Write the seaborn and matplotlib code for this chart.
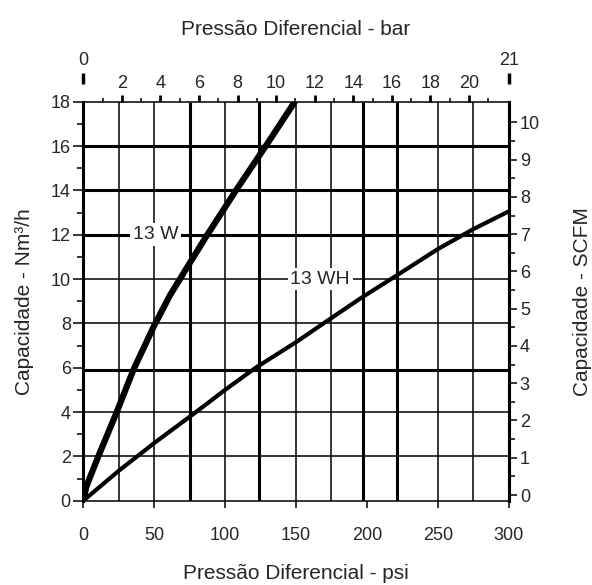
import matplotlib
matplotlib.use("Agg")
import matplotlib.pyplot as plt
import pandas as pd
import seaborn as sns

# curves: differential pressure (psi) vs capacity (Nm3/h)
psi_13w = [0, 2, 5, 10.6, 23.6, 35.3, 50, 61, 72, 86, 108.3, 129.5, 149.2]
cap_13w = [0, 0.6, 1.1, 2.0, 4.0, 5.9, 7.9, 9.25, 10.4, 11.85, 14.06, 16.08, 18.0]

psi_13wh = [0, 25, 50, 79.5, 100, 121.6, 150, 174, 196, 219.5, 250, 275, 300]
cap_13wh = [0, 1.35, 2.6, 4.0, 5.0, 6.0, 7.15, 8.2, 9.15, 10.1, 11.35, 12.25, 13.05]

# grid of the printed chart (some lines are drawn heavier)
grid_psi_thin = [25, 50, 100, 150, 175, 250, 275]
grid_psi_thick = [75, 124, 197, 221]
grid_cap_thin = [2, 4, 8, 10]
grid_cap_thick = [5.9, 12, 14, 16]

psi_ticks = [0, 50, 100, 150, 200, 250, 300]
cap_ticks = [0, 2, 4, 6, 8, 10, 12, 14, 16, 18]
cap_minor = [1, 3, 5, 7, 9, 11, 13, 15, 17]
bar_ticks = [2, 4, 6, 8, 10, 12, 14, 16, 18, 20]
bar_minor = [1, 3, 5, 7, 9, 11, 13, 15, 17, 19, 21]
bar_ends = ["0", "21"]
scfm_ticks = [0, 1, 2, 3, 4, 5, 6, 7, 8, 9, 10]
scfm_minor = [0.5, 1.5, 2.5, 3.5, 4.5, 5.5, 6.5, 7.5, 8.5, 9.5]

psi_per_bar = 13.6      # scale as printed on the top axis
nm3_per_scfm = 1.681    # scale as printed on the right axis
scfm_offset = 0.257

curves = pd.concat([
    pd.DataFrame({"psi": psi_13w, "cap": cap_13w, "model": "13 W"}),
    pd.DataFrame({"psi": psi_13wh, "cap": cap_13wh, "model": "13 WH"}),
])

sns.set_style("white")
plt.rcParams["font.family"] = ["Liberation Sans", "DejaVu Sans"]

TICK = 13
LABEL = 15

fig = plt.figure(figsize=(5.92, 5.85), dpi=100)
ax = fig.add_axes([0.1407, 0.1441, 0.7186, 0.6821])

ax.vlines(grid_psi_thin, 0, 18, color="black", lw=1.1, zorder=1)
ax.vlines(grid_psi_thick, 0, 18, color="black", lw=2.2, zorder=1)
ax.hlines(grid_cap_thin, 0, 300, color="black", lw=1.1, zorder=1)
ax.hlines(grid_cap_thick, 0, 300, color="black", lw=2.2, zorder=1)

sns.lineplot(data=curves[curves["model"] == "13 W"], x="psi", y="cap", color="black",
             lw=4.5, sort=False, ax=ax, zorder=3)
sns.lineplot(data=curves[curves["model"] == "13 WH"], x="psi", y="cap", color="black",
             lw=3.0, sort=False, ax=ax, zorder=3)

ax.text(51, 12, "13 W", fontsize=14, ha="center", va="center", zorder=4,
        bbox=dict(facecolor="white", edgecolor="none", pad=2))
ax.text(167, 10, "13 WH", fontsize=14, ha="center", va="center", zorder=4,
        bbox=dict(facecolor="white", edgecolor="none", pad=2))

ax.set_xlim(0, 300)
ax.set_ylim(0, 18)
ax.set_xticks(psi_ticks)
ax.set_yticks(cap_ticks)
ax.set_yticks(cap_minor, minor=True)
ax.tick_params(axis="x", length=5, width=1.1, labelsize=TICK, pad=14, color="black")
ax.tick_params(axis="y", which="major", length=7, width=1.1, labelsize=TICK, pad=2, color="black")
ax.tick_params(axis="y", which="minor", length=4.5, width=1.1, color="black")
ax.tick_params(left=True, bottom=True, which="both")
ax.set_xlabel("Pressão Diferencial - psi", fontsize=LABEL, labelpad=14)
ax.set_ylabel("Capacidade - Nm³/h", fontsize=LABEL, labelpad=12)

for side in ["left", "right"]:
    ax.spines[side].set_linewidth(2.2)
for side in ["top", "bottom"]:
    ax.spines[side].set_linewidth(1.1)
for s in ax.spines.values():
    s.set_color("black")

# top axis: bar
top = ax.secondary_xaxis("top", functions=(lambda p: p / psi_per_bar, lambda b: b * psi_per_bar))
top.set_xticks(bar_ticks)
top.set_xticks(bar_minor, minor=True)
top.tick_params(which="major", length=5, width=2, labelsize=TICK, pad=2, color="black")
top.tick_params(which="minor", length=3, width=1.1, color="black")
top.spines["top"].set_visible(False)

ends = ax.secondary_xaxis(1.044, functions=(lambda p: p / psi_per_bar, lambda b: b * psi_per_bar))
ends.set_xticks([0, 300 / psi_per_bar], labels=bar_ends)
ends.tick_params(length=8, width=2.5, labelsize=TICK, pad=3, color="black")
ends.spines["top"].set_visible(False)
ends.set_xlabel("Pressão Diferencial - bar", fontsize=LABEL, labelpad=12)

# right axis: SCFM
right = ax.secondary_yaxis("right", functions=(lambda c: (c - scfm_offset) / nm3_per_scfm,
                                               lambda s: s * nm3_per_scfm + scfm_offset))
right.set_yticks(scfm_ticks)
right.set_yticks(scfm_minor, minor=True)
right.tick_params(which="major", length=6, width=1.1, labelsize=TICK, pad=2, color="black")
right.tick_params(which="minor", length=4.5, width=1.1, color="black")
right.spines["right"].set_linewidth(2.2)
right.set_ylabel("Capacidade - SCFM", fontsize=LABEL, labelpad=24)

fig.savefig("out.png", dpi=100)
